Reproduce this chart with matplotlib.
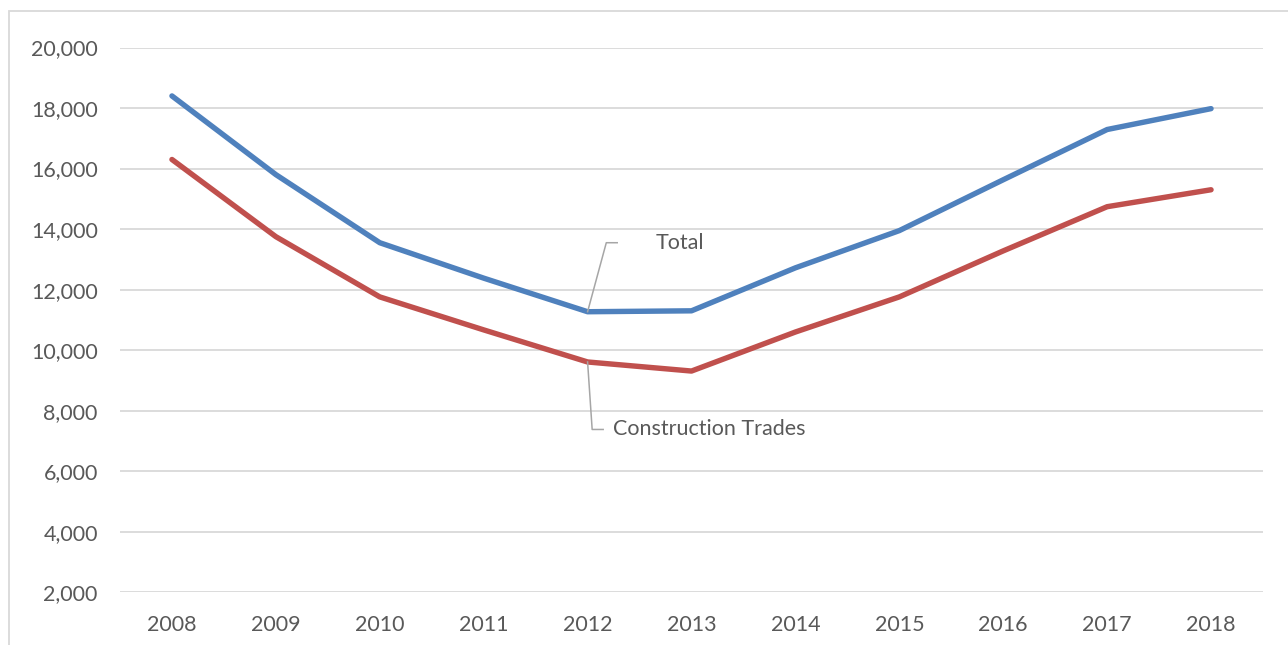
"""Construction trades vs total, 2008-2018 (Excel-style line chart)."""
import numpy as np
import matplotlib; matplotlib.use('Agg')
import matplotlib.pyplot as plt
from matplotlib.patches import Rectangle
from matplotlib.ticker import FuncFormatter

years = ['2008', '2009', '2010', '2011', '2012', '2013', '2014', '2015', '2016', '2017', '2018']
total = [18400, 15800, 13550, 12380, 11270, 11300, 12720, 13950, 15630, 17290, 17980]
construction = [16300, 13750, 11760, 10670, 9610, 9310, 10600, 11760, 13280, 14740, 15300]

BLUE, RED, GRID, TXT = '#4F81BD', '#C0504D', '#d9d9d9', '#595959'
FS = 15.5
plt.rcParams['font.family'] = ['Lato', 'DejaVu Sans']

W, H = 1288, 645
fig = plt.figure(figsize=(W / 100, H / 100), dpi=100)
ax = fig.add_axes([120 / W, (H - 592.3) / H, (1263 - 120) / W, (592.3 - 47.5) / H])

x = np.arange(len(years))
ax.plot(x, total, color=BLUE, lw=3.9, solid_capstyle='round', solid_joinstyle='round', zorder=3)
ax.plot(x, construction, color=RED, lw=3.9, solid_capstyle='round', solid_joinstyle='round', zorder=3)

ax.set_xlim(-0.5, len(years) - 0.5)
ax.set_ylim(2000, 20000)
ax.set_yticks(np.arange(2000, 20001, 2000))
ax.yaxis.set_major_formatter(FuncFormatter(lambda v, _: f'{int(v):,}'))
ax.set_xticks(x)
ax.set_xticklabels(years)
ax.grid(axis='y', color=GRID, lw=1.3)
ax.set_axisbelow(True)
for s in ax.spines.values():
    s.set_visible(False)
ax.tick_params(length=0, labelsize=FS, colors=TXT)
ax.tick_params(axis='y', pad=16)
ax.tick_params(axis='x', pad=16)

# leader-line labels anchored on the 2012 points
i = years.index('2012')
lead = dict(color='#a6a6a6', lw=1.1, zorder=4)
ax.plot([i, i + 0.18, i + 0.285], [total[i], total[i] + 2280, total[i] + 2280], **lead)
ax.text(i + 0.65, total[i] + 2280, 'Total', fontsize=FS, color=TXT, va='center')
ax.plot([i, i + 0.044, i + 0.15], [construction[i], construction[i] - 2230, construction[i] - 2230], **lead)
ax.text(i + 0.246, construction[i] - 2230, 'Construction Trades', fontsize=FS, color=TXT, va='center')

# light chart frame (cropped at right and bottom)
fig.add_artist(Rectangle((9 / W, -0.05), 1.2, 1.05 - 11 / H, fill=False,
                         edgecolor=GRID, lw=1.3, transform=fig.transFigure))

fig.savefig('out.png', dpi=100)
